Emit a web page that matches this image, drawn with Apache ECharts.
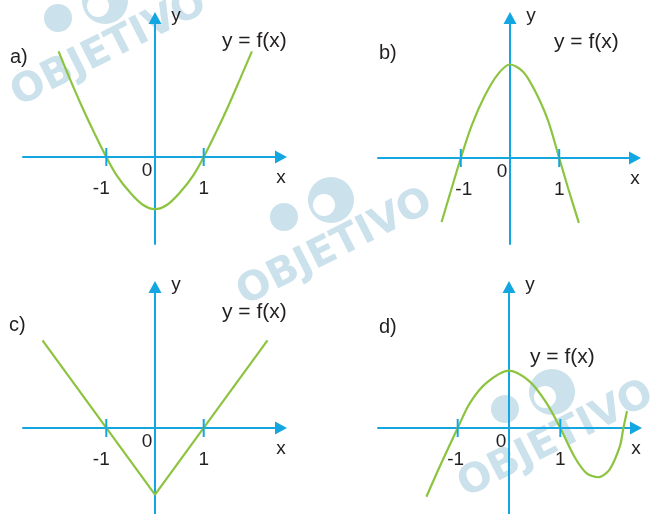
<!DOCTYPE html>
<html><head><meta charset="utf-8">
<script src="https://cdn.jsdelivr.net/npm/echarts@6/dist/echarts.min.js"></script>
<style>html,body{margin:0;padding:0;background:#fff}#c{width:653px;height:514px}</style>
</head><body><div id="c"></div>
<script>
// ---------- data ----------
const panelLetters = ['a)', 'b)', 'c)', 'd)'];
const formulaText = 'y = f(x)';
const axisNames = ['x', 'y'];
const originText = '0';
const tickValues = [-1, 1];
const tickTexts = ['-1', '1'];
const watermarkText = 'OBJETIVO';

const curveAX = [-1.98, -1.75, -1.48, -1.24, -1, -0.79, -0.52, -0.25, 0, 0.25, 0.52, 0.79, 1, 1.24, 1.48, 1.75, 1.99];
const curveAY = [2.17, 1.61, 0.99, 0.48, 0, -0.37, -0.72, -0.98, -1.07, -0.98, -0.72, -0.37, 0, 0.48, 0.99, 1.61, 2.17];

const curveBX = [-1.39, -1.22, -1, -0.78, -0.51, -0.24, 0, 0.27, 0.50, 0.77, 1, 1.18, 1.40];
const curveBY = [-1.30, -0.73, 0, 0.66, 1.27, 1.71, 1.90, 1.75, 1.38, 0.77, 0, -0.61, -1.32];

const curveCX = [-2.31, 0, 2.31];
const curveCY = [1.80, -1.37, 1.80];

const curveDX = [-1.61, -1.35, -1, -0.76, -0.44, 0, 0.40, 0.73, 1, 1.27, 1.51, 1.74, 1.96, 2.16, 2.23, 2.30];
const curveDY = [-1.34, -0.75, 0, 0.49, 0.88, 1.12, 0.91, 0.49, 0, -0.55, -0.88, -0.96, -0.81, -0.36, 0, 0.33];

// ---------- layout / style ----------
const BLUE = '#14a6e1', GREEN = '#8cc43f', INK = '#231f20', WM = '#cbe1eb';
const FONT = '"Liberation Sans", Arial, sans-serif';
const panels = [
  {xs: curveAX, ys: curveAY, smooth: 0.35, ox: 155, oy: 157, unit: 48.7, left: 23, right: 281, top: 18, bottom: 244, m1dx: -5, letter: [10, 57], formula: [222, 41]},
  {xs: curveBX, ys: curveBY, smooth: 0.3, ox: 510, oy: 158, unit: 49.2, left: 378, right: 635, top: 18, bottom: 244, m1dx: 3, letter: [379, 53], formula: [554, 42]},
  {xs: curveCX, ys: curveCY, smooth: false, ox: 155, oy: 428, unit: 48.7, left: 23, right: 281, top: 287, bottom: 514, m1dx: -5, letter: [9, 325], formula: [222, 312]},
  {xs: curveDX, ys: curveDY, smooth: 0.3, ox: 509, oy: 428, unit: 51.3, left: 378, right: 636, top: 287, bottom: 514, m1dx: -2, letter: [379, 327], formula: [530, 357]}
];
const watermarks = [[109, 49], [335, 248], [556, 440]];

const grid = [], xAxis = [], yAxis = [], series = [], graphic = [];

// watermark (underneath)
watermarks.forEach(([cx, cy]) => {
  graphic.push({type: 'group', z: -10, silent: true, children: [
    {type: 'circle', shape: {cx: cx - 4, cy: cy - 48, r: 23}, style: {fill: WM}},
    {type: 'circle', shape: {cx: cx - 11, cy: cy - 43, r: 11}, style: {fill: '#fff'}},
    {type: 'circle', shape: {cx: cx - 51, cy: cy - 31, r: 14}, style: {fill: WM}},
    {type: 'text', x: cx, y: cy, rotation: 0.47,
      style: {text: watermarkText, fill: WM, font: 'bold 40px "DejaVu Sans", sans-serif', align: 'center', verticalAlign: 'middle'}}
  ]});
});

panels.forEach((p, i) => {
  const xMin = (p.left - p.ox) / p.unit, xMax = (p.right - p.ox) / p.unit;
  const yMin = -(p.bottom - p.oy) / p.unit, yMax = (p.oy - p.top) / p.unit;
  grid.push({left: p.left, top: p.top, width: p.right - p.left, height: p.bottom - p.top, containLabel: false, outerBoundsMode: 'none'});
  const axisCommon = {
    type: 'value', gridIndex: i, splitLine: {show: false}, axisTick: {show: false}, axisLabel: {show: false},
    axisLine: {show: true, onZero: true, symbol: ['none', 'triangle'], symbolSize: [13, 12],
      lineStyle: {color: BLUE, width: 2}}
  };
  xAxis.push(Object.assign({}, axisCommon, {min: xMin, max: xMax}));
  yAxis.push(Object.assign({}, axisCommon, {min: yMin, max: yMax}));

  series.push({
    type: 'line', xAxisIndex: i, yAxisIndex: i, showSymbol: false, smooth: p.smooth, silent: true, z: 3,
    lineStyle: {color: GREEN, width: 2.2}, data: p.xs.map((x, k) => [x, p.ys[k]])
  });
  series.push({
    type: 'scatter', xAxisIndex: i, yAxisIndex: i, symbol: 'rect', symbolSize: [2, 18], silent: true, z: 4,
    itemStyle: {color: BLUE, opacity: 1}, data: tickValues.map(v => [v, 0])
  });
  const lab = (v, text, off) => ({value: v, label: {formatter: text, offset: off}});
  series.push({
    type: 'scatter', xAxisIndex: i, yAxisIndex: i, symbolSize: 0, silent: true, z: 5,
    itemStyle: {color: INK, opacity: 1},
    label: {show: true, position: 'top', distance: 0, color: INK, opacity: 1, fontSize: 19, fontFamily: FONT,
      textBorderWidth: 0, textBorderColor: 'transparent', align: 'center', verticalAlign: 'middle'},
    data: [
      lab([tickValues[0], 0], tickTexts[0], [p.m1dx, 32]),
      lab([tickValues[1], 0], tickTexts[1], [0, 32]),
      lab([0, 0], originText, [-8, 14]),
      lab([xMax, 0], axisNames[0], [0, 21]),
      lab([0, yMax], axisNames[1], [21, -2])
    ]
  });
  graphic.push({type: 'text', x: p.letter[0], y: p.letter[1], z: 10, silent: true,
    style: {text: panelLetters[i], fill: INK, font: '20px ' + FONT, align: 'left', verticalAlign: 'middle'}});
  graphic.push({type: 'text', x: p.formula[0], y: p.formula[1], z: 10, silent: true,
    style: {text: formulaText, fill: INK, font: '21px ' + FONT, align: 'left', verticalAlign: 'middle'}});
});

const chart = echarts.init(document.getElementById('c'), null, {renderer: 'canvas'});
chart.setOption({animation: false, backgroundColor: '#fff', grid, xAxis, yAxis, series, graphic});
</script></body></html>
